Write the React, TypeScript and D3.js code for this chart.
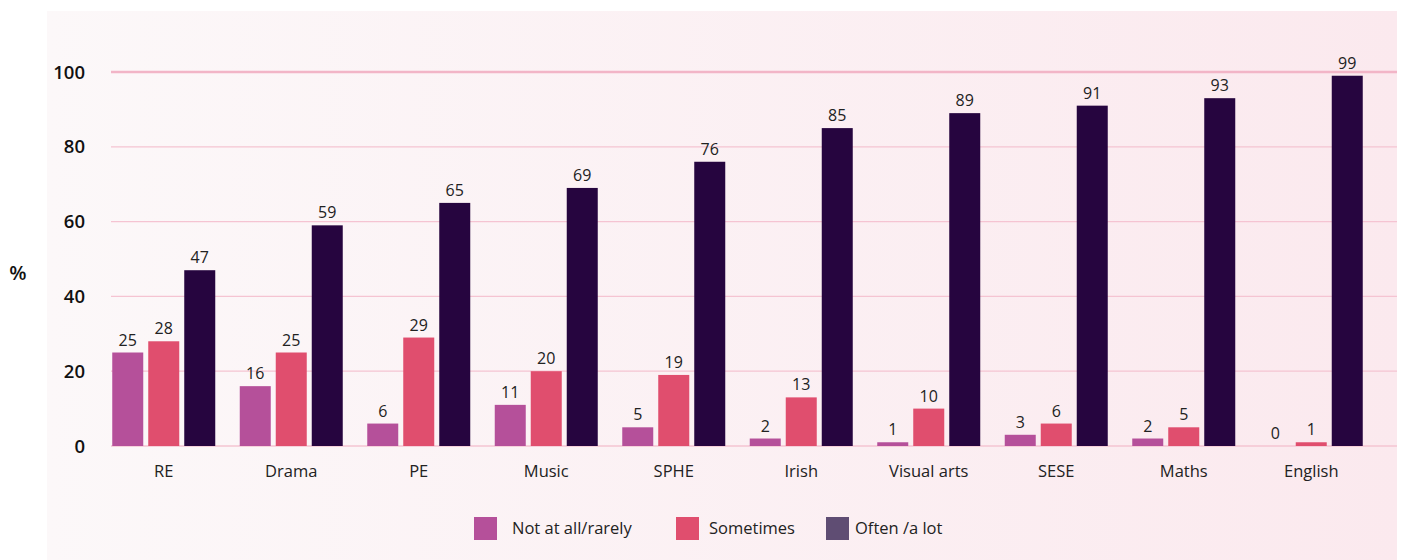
import React from "react";
import * as d3 from "d3";

const categories = ["RE", "Drama", "PE", "Music", "SPHE", "Irish", "Visual arts", "SESE", "Maths", "English"];
const seriesNames = ["Not at all/rarely", "Sometimes", "Often /a lot"];
const notAtAll = [25, 16, 6, 11, 5, 2, 1, 3, 2, 0];
const sometimes = [28, 25, 29, 20, 19, 13, 10, 6, 5, 1];
const often = [47, 59, 65, 69, 76, 85, 89, 91, 93, 99];
const yTicks = [0, 20, 40, 60, 80, 100];
const barColors = ["#b5509a", "#e04e6e", "#26053f"];
const legendColors = ["#b5509a", "#e04e6e", "#5f4d73"];

const W = 1402;
const H = 560;
const FONT = "'Open Sans', 'Noto Sans', sans-serif";

export default function App() {
  const x = d3.scaleBand<string>().domain(categories).range([100, 1375]).paddingInner(0).paddingOuter(0);
  const y = d3.scaleLinear().domain([0, 100]).range([446, 72]);
  const series = [notAtAll, sometimes, often];
  const barW = 31;
  const barGap = 5;
  const inner = d3.scaleBand<number>().domain([0, 1, 2]).range([-(barW * 3 + barGap * 2) / 2, (barW * 3 + barGap * 2) / 2]).paddingInner(barGap / (barW + barGap)).paddingOuter(0);

  const legendItems = [
    { sq: 474, tx: 512 },
    { sq: 676, tx: 709 },
    { sq: 826, tx: 855 },
  ];

  return (
    <div style={{ position: "absolute", left: 0, top: 0 }}>
      <svg width={W} height={H} style={{ display: "block", fontFamily: FONT }}>
        <defs>
          <linearGradient id="bg" x1="0" x2="1" y1="0" y2="0">
            <stop offset="0" stopColor="#fcf8f9" />
            <stop offset="1" stopColor="#fbe9ee" />
          </linearGradient>
        </defs>
        <rect x={0} y={0} width={W} height={H} fill="#ffffff" />
        <rect x={47} y={11} width={1350} height={549} fill="url(#bg)" />
        {yTicks.map((t) => (
          <g key={t}>
            <line
              x1={111}
              x2={1397}
              y1={y(t)}
              y2={y(t)}
              stroke={t === 100 ? "#f2b5c7" : "#f5c4d2"}
              strokeWidth={t === 100 ? 2.5 : 1.3}
            />
            <text x={85} y={y(t) + 6.5} textAnchor="end" fontSize={18.5} fontWeight={600} fill="#111">
              {t}
            </text>
          </g>
        ))}
        <text x={18} y={280} textAnchor="middle" fontSize={20} fontWeight={600} fill="#111">%</text>
        {categories.map((c, i) => {
          const cx = (x(c) as number) + x.bandwidth() / 2;
          return (
            <g key={c}>
              {series.map((s, k) => {
                const bx = cx + (inner(k) as number);
                const v = s[i];
                return (
                  <g key={k}>
                    <rect x={bx} y={y(v)} width={inner.bandwidth()} height={y(0) - y(v)} fill={barColors[k]} />
                    <text x={bx + inner.bandwidth() / 2} y={y(v) - 7} textAnchor="middle" fontSize={16} fill="#222">
                      {v}
                    </text>
                  </g>
                );
              })}
              <text x={cx} y={477} textAnchor="middle" fontSize={16.5} fill="#222">{c}</text>
            </g>
          );
        })}
        {seriesNames.map((n, k) => (
          <g key={n}>
            <rect x={legendItems[k].sq} y={517} width={23} height={23} fill={legendColors[k]} />
            <text x={legendItems[k].tx} y={534} fontSize={16.5} fill="#222">{n}</text>
          </g>
        ))}
      </svg>
    </div>
  );
}
